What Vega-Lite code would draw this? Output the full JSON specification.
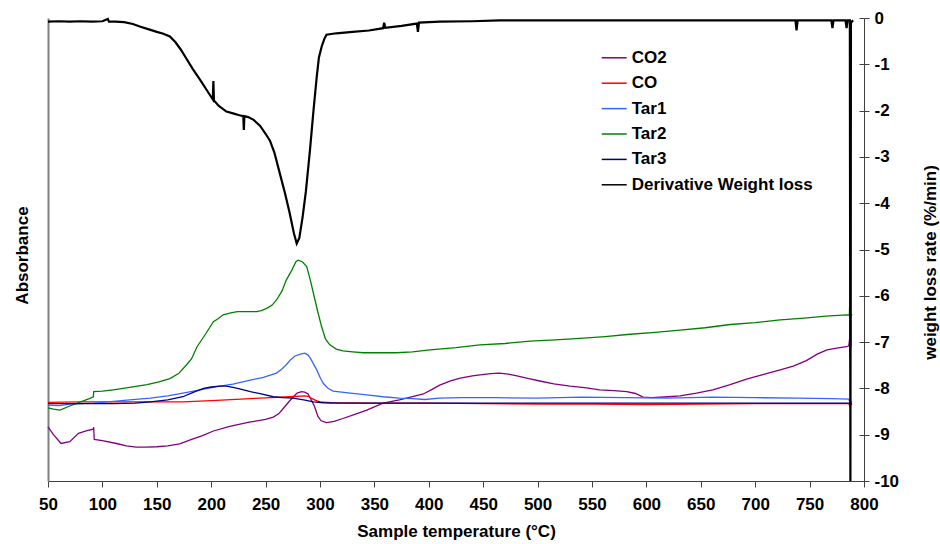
{
  "$schema": "https://vega.github.io/schema/vega-lite/v6.json",
  "width": 816,
  "height": 463,
  "autosize": "none",
  "padding": {"left": 48, "top": 18, "right": 76, "bottom": 63},
  "config": {
    "view": {"stroke": null},
    "font": "Liberation Sans",
    "axis": {"grid": false}
  },
  "data": {
    "values": [
      {"s":"CO2","t":50,"v":-8.83},{"s":"CO2","t":55,"v":-9.0},{"s":"CO2","t":62,"v":-9.19},{"s":"CO2","t":70,"v":-9.15},{"s":"CO2","t":78,"v":-8.97},{"s":"CO2","t":85,"v":-8.92},{"s":"CO2","t":91.5,"v":-8.88},{"s":"CO2","t":92,"v":-8.84},{"s":"CO2","t":92.5,"v":-9.1},{"s":"CO2","t":100,"v":-9.13},{"s":"CO2","t":113,"v":-9.19},{"s":"CO2","t":122,"v":-9.24},{"s":"CO2","t":131,"v":-9.27},{"s":"CO2","t":140,"v":-9.27},{"s":"CO2","t":150,"v":-9.26},{"s":"CO2","t":160,"v":-9.24},{"s":"CO2","t":171,"v":-9.2},{"s":"CO2","t":182,"v":-9.1},{"s":"CO2","t":192,"v":-9.02},{"s":"CO2","t":202,"v":-8.92},{"s":"CO2","t":217,"v":-8.82},{"s":"CO2","t":235,"v":-8.73},{"s":"CO2","t":250,"v":-8.67},{"s":"CO2","t":257,"v":-8.62},{"s":"CO2","t":262,"v":-8.55},{"s":"CO2","t":266,"v":-8.44},{"s":"CO2","t":271,"v":-8.3},{"s":"CO2","t":275.5,"v":-8.18},{"s":"CO2","t":279,"v":-8.1},{"s":"CO2","t":283,"v":-8.07},{"s":"CO2","t":286,"v":-8.08},{"s":"CO2","t":289,"v":-8.12},{"s":"CO2","t":292,"v":-8.25},{"s":"CO2","t":295,"v":-8.39},{"s":"CO2","t":298,"v":-8.6},{"s":"CO2","t":301,"v":-8.7},{"s":"CO2","t":306,"v":-8.74},{"s":"CO2","t":313,"v":-8.71},{"s":"CO2","t":321,"v":-8.65},{"s":"CO2","t":332,"v":-8.56},{"s":"CO2","t":343,"v":-8.47},{"s":"CO2","t":358,"v":-8.32},{"s":"CO2","t":373,"v":-8.25},{"s":"CO2","t":385,"v":-8.18},{"s":"CO2","t":395,"v":-8.12},{"s":"CO2","t":403,"v":-8.02},{"s":"CO2","t":410,"v":-7.93},{"s":"CO2","t":420,"v":-7.84},{"s":"CO2","t":429,"v":-7.78},{"s":"CO2","t":440,"v":-7.73},{"s":"CO2","t":447,"v":-7.71},{"s":"CO2","t":457,"v":-7.68},{"s":"CO2","t":465,"v":-7.67},{"s":"CO2","t":473,"v":-7.69},{"s":"CO2","t":481,"v":-7.73},{"s":"CO2","t":492,"v":-7.79},{"s":"CO2","t":502,"v":-7.84},{"s":"CO2","t":515,"v":-7.9},{"s":"CO2","t":530,"v":-7.95},{"s":"CO2","t":545,"v":-7.99},{"s":"CO2","t":557,"v":-8.03},{"s":"CO2","t":570,"v":-8.05},{"s":"CO2","t":582,"v":-8.07},{"s":"CO2","t":590,"v":-8.11},{"s":"CO2","t":597,"v":-8.19},{"s":"CO2","t":605,"v":-8.2},{"s":"CO2","t":620,"v":-8.18},{"s":"CO2","t":631,"v":-8.16},{"s":"CO2","t":646,"v":-8.1},{"s":"CO2","t":661,"v":-8.03},{"s":"CO2","t":677,"v":-7.92},{"s":"CO2","t":692,"v":-7.8},{"s":"CO2","t":707,"v":-7.7},{"s":"CO2","t":723,"v":-7.6},{"s":"CO2","t":735,"v":-7.52},{"s":"CO2","t":747,"v":-7.4},{"s":"CO2","t":757,"v":-7.26},{"s":"CO2","t":766,"v":-7.17},{"s":"CO2","t":775,"v":-7.13},{"s":"CO2","t":784,"v":-7.1},{"s":"CO2","t":786,"v":-7.08},{"s":"CO2","t":786.8,"v":-6.93},{"s":"CO2","t":787.3,"v":-7.35},{"s":"CO2","t":787.6,"v":-2.0},{"s":"CO2","t":788,"v":-7.1},

      {"s":"CO","t":50,"v":-8.3},{"s":"CO","t":80,"v":-8.29},{"s":"CO","t":120,"v":-8.29},{"s":"CO","t":144,"v":-8.29},{"s":"CO","t":174,"v":-8.29},{"s":"CO","t":205,"v":-8.26},{"s":"CO","t":236,"v":-8.22},{"s":"CO","t":255,"v":-8.2},{"s":"CO","t":272,"v":-8.18},{"s":"CO","t":286,"v":-8.16},{"s":"CO","t":289,"v":-8.17},{"s":"CO","t":292,"v":-8.21},{"s":"CO","t":296,"v":-8.26},{"s":"CO","t":300,"v":-8.29},{"s":"CO","t":310,"v":-8.31},{"s":"CO","t":350,"v":-8.32},{"s":"CO","t":400,"v":-8.32},{"s":"CO","t":450,"v":-8.33},{"s":"CO","t":500,"v":-8.34},{"s":"CO","t":550,"v":-8.34},{"s":"CO","t":600,"v":-8.35},{"s":"CO","t":650,"v":-8.34},{"s":"CO","t":700,"v":-8.33},{"s":"CO","t":750,"v":-8.33},{"s":"CO","t":786,"v":-8.33},{"s":"CO","t":787,"v":-8.38},{"s":"CO","t":789,"v":-8.33},

      {"s":"Tar1","t":50,"v":-8.36},{"s":"Tar1","t":60,"v":-8.37},{"s":"Tar1","t":70,"v":-8.34},{"s":"Tar1","t":80,"v":-8.33},{"s":"Tar1","t":92,"v":-8.32},{"s":"Tar1","t":105,"v":-8.29},{"s":"Tar1","t":125,"v":-8.25},{"s":"Tar1","t":144,"v":-8.21},{"s":"Tar1","t":160,"v":-8.16},{"s":"Tar1","t":174,"v":-8.1},{"s":"Tar1","t":190,"v":-8.03},{"s":"Tar1","t":205,"v":-7.96},{"s":"Tar1","t":220,"v":-7.91},{"s":"Tar1","t":236,"v":-7.82},{"s":"Tar1","t":248,"v":-7.76},{"s":"Tar1","t":260,"v":-7.67},{"s":"Tar1","t":265,"v":-7.58},{"s":"Tar1","t":269,"v":-7.49},{"s":"Tar1","t":273,"v":-7.38},{"s":"Tar1","t":277,"v":-7.3},{"s":"Tar1","t":282,"v":-7.26},{"s":"Tar1","t":286,"v":-7.24},{"s":"Tar1","t":289,"v":-7.28},{"s":"Tar1","t":291,"v":-7.34},{"s":"Tar1","t":294,"v":-7.47},{"s":"Tar1","t":297,"v":-7.6},{"s":"Tar1","t":300,"v":-7.76},{"s":"Tar1","t":303,"v":-7.89},{"s":"Tar1","t":307,"v":-7.99},{"s":"Tar1","t":312,"v":-8.06},{"s":"Tar1","t":320,"v":-8.08},{"s":"Tar1","t":328,"v":-8.1},{"s":"Tar1","t":343,"v":-8.14},{"s":"Tar1","t":358,"v":-8.18},{"s":"Tar1","t":373,"v":-8.21},{"s":"Tar1","t":385,"v":-8.22},{"s":"Tar1","t":396,"v":-8.24},{"s":"Tar1","t":410,"v":-8.21},{"s":"Tar1","t":430,"v":-8.2},{"s":"Tar1","t":460,"v":-8.2},{"s":"Tar1","t":500,"v":-8.21},{"s":"Tar1","t":540,"v":-8.19},{"s":"Tar1","t":580,"v":-8.2},{"s":"Tar1","t":620,"v":-8.21},{"s":"Tar1","t":660,"v":-8.19},{"s":"Tar1","t":700,"v":-8.2},{"s":"Tar1","t":740,"v":-8.21},{"s":"Tar1","t":770,"v":-8.22},{"s":"Tar1","t":786,"v":-8.23},{"s":"Tar1","t":787,"v":-8.3},{"s":"Tar1","t":789,"v":-8.28},

      {"s":"Tar2","t":50,"v":-8.42},{"s":"Tar2","t":55,"v":-8.45},{"s":"Tar2","t":61,"v":-8.47},{"s":"Tar2","t":70,"v":-8.38},{"s":"Tar2","t":80,"v":-8.29},{"s":"Tar2","t":88,"v":-8.22},{"s":"Tar2","t":91.7,"v":-8.18},{"s":"Tar2","t":92,"v":-8.07},{"s":"Tar2","t":100,"v":-8.06},{"s":"Tar2","t":110,"v":-8.03},{"s":"Tar2","t":125,"v":-7.98},{"s":"Tar2","t":141,"v":-7.92},{"s":"Tar2","t":152,"v":-7.86},{"s":"Tar2","t":162,"v":-7.79},{"s":"Tar2","t":170,"v":-7.68},{"s":"Tar2","t":177,"v":-7.5},{"s":"Tar2","t":182,"v":-7.36},{"s":"Tar2","t":187,"v":-7.1},{"s":"Tar2","t":195,"v":-6.82},{"s":"Tar2","t":202,"v":-6.56},{"s":"Tar2","t":206,"v":-6.5},{"s":"Tar2","t":211,"v":-6.41},{"s":"Tar2","t":218,"v":-6.37},{"s":"Tar2","t":224,"v":-6.34},{"s":"Tar2","t":235,"v":-6.34},{"s":"Tar2","t":242,"v":-6.34},{"s":"Tar2","t":246,"v":-6.32},{"s":"Tar2","t":251,"v":-6.27},{"s":"Tar2","t":256,"v":-6.2},{"s":"Tar2","t":260,"v":-6.09},{"s":"Tar2","t":265,"v":-5.9},{"s":"Tar2","t":269,"v":-5.66},{"s":"Tar2","t":274,"v":-5.45},{"s":"Tar2","t":278,"v":-5.26},{"s":"Tar2","t":280,"v":-5.23},{"s":"Tar2","t":284,"v":-5.27},{"s":"Tar2","t":287.8,"v":-5.37},{"s":"Tar2","t":291,"v":-5.65},{"s":"Tar2","t":294,"v":-5.95},{"s":"Tar2","t":298,"v":-6.35},{"s":"Tar2","t":301.5,"v":-6.67},{"s":"Tar2","t":305,"v":-6.93},{"s":"Tar2","t":309,"v":-7.06},{"s":"Tar2","t":315,"v":-7.15},{"s":"Tar2","t":321,"v":-7.19},{"s":"Tar2","t":330,"v":-7.21},{"s":"Tar2","t":340,"v":-7.23},{"s":"Tar2","t":355,"v":-7.23},{"s":"Tar2","t":370,"v":-7.23},{"s":"Tar2","t":385,"v":-7.21},{"s":"Tar2","t":401,"v":-7.17},{"s":"Tar2","t":425,"v":-7.12},{"s":"Tar2","t":447,"v":-7.06},{"s":"Tar2","t":470,"v":-7.03},{"s":"Tar2","t":493,"v":-6.98},{"s":"Tar2","t":516,"v":-6.95},{"s":"Tar2","t":539,"v":-6.92},{"s":"Tar2","t":562,"v":-6.88},{"s":"Tar2","t":585,"v":-6.83},{"s":"Tar2","t":608,"v":-6.79},{"s":"Tar2","t":631,"v":-6.74},{"s":"Tar2","t":654,"v":-6.69},{"s":"Tar2","t":677,"v":-6.62},{"s":"Tar2","t":700,"v":-6.58},{"s":"Tar2","t":723,"v":-6.52},{"s":"Tar2","t":745,"v":-6.48},{"s":"Tar2","t":765,"v":-6.44},{"s":"Tar2","t":784,"v":-6.41},{"s":"Tar2","t":786.5,"v":-6.42},{"s":"Tar2","t":787,"v":-6.1},{"s":"Tar2","t":787.5,"v":-6.45},{"s":"Tar2","t":789,"v":-6.4},

      {"s":"Tar3","t":50,"v":-8.33},{"s":"Tar3","t":80,"v":-8.33},{"s":"Tar3","t":110,"v":-8.33},{"s":"Tar3","t":130,"v":-8.32},{"s":"Tar3","t":144,"v":-8.29},{"s":"Tar3","t":160,"v":-8.25},{"s":"Tar3","t":174,"v":-8.18},{"s":"Tar3","t":184,"v":-8.08},{"s":"Tar3","t":193,"v":-8.0},{"s":"Tar3","t":200,"v":-7.97},{"s":"Tar3","t":208,"v":-7.95},{"s":"Tar3","t":214,"v":-7.95},{"s":"Tar3","t":220,"v":-7.98},{"s":"Tar3","t":228,"v":-8.02},{"s":"Tar3","t":236,"v":-8.07},{"s":"Tar3","t":246,"v":-8.12},{"s":"Tar3","t":257,"v":-8.18},{"s":"Tar3","t":266,"v":-8.2},{"s":"Tar3","t":275,"v":-8.21},{"s":"Tar3","t":285,"v":-8.25},{"s":"Tar3","t":294,"v":-8.29},{"s":"Tar3","t":303,"v":-8.31},{"s":"Tar3","t":320,"v":-8.32},{"s":"Tar3","t":400,"v":-8.32},{"s":"Tar3","t":500,"v":-8.32},{"s":"Tar3","t":600,"v":-8.32},{"s":"Tar3","t":700,"v":-8.32},{"s":"Tar3","t":789,"v":-8.32},

      {"s":"Derivative Weight loss","t":50,"v":-0.08},{"s":"Derivative Weight loss","t":60,"v":-0.07},{"s":"Derivative Weight loss","t":70,"v":-0.08},{"s":"Derivative Weight loss","t":80,"v":-0.07},{"s":"Derivative Weight loss","t":90,"v":-0.08},{"s":"Derivative Weight loss","t":100,"v":-0.07},{"s":"Derivative Weight loss","t":105,"v":-0.02},{"s":"Derivative Weight loss","t":106,"v":-0.08},{"s":"Derivative Weight loss","t":112,"v":-0.08},{"s":"Derivative Weight loss","t":120,"v":-0.09},{"s":"Derivative Weight loss","t":128,"v":-0.13},{"s":"Derivative Weight loss","t":135,"v":-0.19},{"s":"Derivative Weight loss","t":142,"v":-0.24},{"s":"Derivative Weight loss","t":150,"v":-0.3},{"s":"Derivative Weight loss","t":156,"v":-0.34},{"s":"Derivative Weight loss","t":162,"v":-0.4},{"s":"Derivative Weight loss","t":167,"v":-0.52},{"s":"Derivative Weight loss","t":172,"v":-0.68},{"s":"Derivative Weight loss","t":177,"v":-0.87},{"s":"Derivative Weight loss","t":183,"v":-1.1},{"s":"Derivative Weight loss","t":190,"v":-1.34},{"s":"Derivative Weight loss","t":196,"v":-1.56},{"s":"Derivative Weight loss","t":201.5,"v":-1.76},{"s":"Derivative Weight loss","t":202,"v":-1.36},{"s":"Derivative Weight loss","t":202.5,"v":-1.78},{"s":"Derivative Weight loss","t":207,"v":-1.9},{"s":"Derivative Weight loss","t":214,"v":-2.02},{"s":"Derivative Weight loss","t":220,"v":-2.06},{"s":"Derivative Weight loss","t":226,"v":-2.1},{"s":"Derivative Weight loss","t":229.5,"v":-2.12},{"s":"Derivative Weight loss","t":230,"v":-2.42},{"s":"Derivative Weight loss","t":230.5,"v":-2.12},{"s":"Derivative Weight loss","t":234,"v":-2.14},{"s":"Derivative Weight loss","t":239,"v":-2.2},{"s":"Derivative Weight loss","t":245,"v":-2.33},{"s":"Derivative Weight loss","t":250,"v":-2.5},{"s":"Derivative Weight loss","t":254,"v":-2.65},{"s":"Derivative Weight loss","t":258,"v":-2.9},{"s":"Derivative Weight loss","t":263,"v":-3.35},{"s":"Derivative Weight loss","t":268,"v":-3.8},{"s":"Derivative Weight loss","t":272,"v":-4.2},{"s":"Derivative Weight loss","t":276,"v":-4.65},{"s":"Derivative Weight loss","t":278.6,"v":-4.87},{"s":"Derivative Weight loss","t":281,"v":-4.75},{"s":"Derivative Weight loss","t":284,"v":-4.3},{"s":"Derivative Weight loss","t":287,"v":-3.75},{"s":"Derivative Weight loss","t":290.8,"v":-2.85},{"s":"Derivative Weight loss","t":294,"v":-2.0},{"s":"Derivative Weight loss","t":297,"v":-1.27},{"s":"Derivative Weight loss","t":299,"v":-0.85},{"s":"Derivative Weight loss","t":301.5,"v":-0.62},{"s":"Derivative Weight loss","t":304,"v":-0.45},{"s":"Derivative Weight loss","t":306,"v":-0.36},{"s":"Derivative Weight loss","t":315,"v":-0.33},{"s":"Derivative Weight loss","t":330,"v":-0.3},{"s":"Derivative Weight loss","t":345,"v":-0.27},{"s":"Derivative Weight loss","t":358,"v":-0.22},{"s":"Derivative Weight loss","t":359,"v":-0.1},{"s":"Derivative Weight loss","t":360,"v":-0.21},{"s":"Derivative Weight loss","t":375,"v":-0.17},{"s":"Derivative Weight loss","t":389,"v":-0.12},{"s":"Derivative Weight loss","t":390,"v":-0.3},{"s":"Derivative Weight loss","t":391,"v":-0.1},{"s":"Derivative Weight loss","t":410,"v":-0.08},{"s":"Derivative Weight loss","t":440,"v":-0.07},{"s":"Derivative Weight loss","t":465,"v":-0.05},{"s":"Derivative Weight loss","t":520,"v":-0.05},{"s":"Derivative Weight loss","t":600,"v":-0.05},{"s":"Derivative Weight loss","t":680,"v":-0.05},{"s":"Derivative Weight loss","t":737,"v":-0.05},{"s":"Derivative Weight loss","t":738,"v":-0.27},{"s":"Derivative Weight loss","t":739,"v":-0.05},{"s":"Derivative Weight loss","t":770,"v":-0.05},{"s":"Derivative Weight loss","t":771,"v":-0.22},{"s":"Derivative Weight loss","t":772,"v":-0.05},{"s":"Derivative Weight loss","t":783,"v":-0.05},{"s":"Derivative Weight loss","t":784,"v":-0.22},{"s":"Derivative Weight loss","t":785,"v":-0.05},{"s":"Derivative Weight loss","t":787,"v":-0.05},{"s":"Derivative Weight loss","t":787.5,"v":-10},{"s":"Derivative Weight loss","t":788,"v":-0.1},{"s":"Derivative Weight loss","t":790,"v":-0.05}
    ]
  },
  "encoding": {
    "x": {
      "field": "t",
      "type": "quantitative",
      "scale": {"domain": [50, 800], "nice": false, "zero": false},
      "axis": {
        "title": "Sample temperature (°C)",
        "values": [50, 100, 150, 200, 250, 300, 350, 400, 450, 500, 550, 600, 650, 700, 750, 800],
        "format": "d",
        "tickSize": 6,
        "labelPadding": 9,
        "labelFontSize": 17,
        "labelFontWeight": "bold",
        "labelColor": "black",
        "labelFlush": false,
        "labelOverlap": false,
        "titleFontSize": 17,
        "titleFontWeight": "bold",
        "titleColor": "black",
        "titlePadding": 11,
        "domainColor": "#404040",
        "tickColor": "#404040"
      }
    }
  },
  "layer": [
    {
      "transform": [{"filter": "datum.s !== 'Derivative Weight loss'"}],
      "mark": {"type": "line", "strokeWidth": 1.3},
      "encoding": {
        "y": {
          "field": "v",
          "type": "quantitative",
          "scale": {"domain": [-10, 0], "nice": false, "zero": false},
          "axis": {
            "orient": "right",
            "title": "weight loss rate (%/min)",
            "values": [0, -1, -2, -3, -4, -5, -6, -7, -8, -9, -10],
            "labelExpr": "toString(datum.value)",
            "tickSize": 5,
            "labelPadding": 5,
            "labelFontSize": 17,
            "labelFontWeight": "bold",
            "labelColor": "black",
            "labelFlush": false,
            "titleAngle": 270,
            "titleBaseline": "top",
            "titleFontSize": 17,
            "titleFontWeight": "bold",
            "titleColor": "black",
            "titlePadding": 24,
            "titleY": 244,
            "domainColor": "#404040",
            "tickColor": "#404040"
          }
        },
        "color": {
          "field": "s",
          "type": "nominal",
          "scale": {
            "domain": ["CO2", "CO", "Tar1", "Tar2", "Tar3", "Derivative Weight loss"],
            "range": ["#800080", "#ff0000", "#3366ff", "#008000", "#000080", "#000000"]
          },
          "legend": {
            "orient": "none",
            "legendX": 552.7,
            "legendY": 26.3,
            "title": null,
            "symbolType": "stroke",
            "symbolSize": 625,
            "symbolStrokeWidth": 1.5,
            "labelFontSize": 17,
            "labelFontWeight": "bold",
            "labelColor": "black",
            "labelLimit": 0,
            "labelOffset": 4,
            "rowPadding": 3.4,
            "padding": 0
          }
        }
      }
    },
    {
      "transform": [{"filter": "datum.s === 'Derivative Weight loss'"}],
      "mark": {"type": "line", "strokeWidth": 2.2},
      "encoding": {
        "y": {
          "field": "v",
          "type": "quantitative",
          "scale": {"domain": [-10, 0], "nice": false, "zero": false},
          "axis": {
            "orient": "left",
            "title": "Absorbance",
            "labels": false,
            "ticks": false,
            "domainColor": "#808080",
            "domainWidth": 2,
            "titleFontSize": 17,
            "titleFontWeight": "bold",
            "titleColor": "black",
            "titlePadding": 17,
            "titleY": 237
          }
        },
        "color": {
          "field": "s",
          "type": "nominal",
          "scale": {
            "domain": ["CO2", "CO", "Tar1", "Tar2", "Tar3", "Derivative Weight loss"],
            "range": ["#800080", "#ff0000", "#3366ff", "#008000", "#000080", "#000000"]
          }
        }
      }
    },
    {
      "data": {"values": []},
      "mark": {"type": "rule"},
      "encoding": {
        "y": {
          "field": "v",
          "type": "quantitative",
          "scale": {"domain": [-10, 0], "nice": false, "zero": false},
          "axis": {
            "orient": "right",
            "offset": -5,
            "tickSize": 5,
            "labels": false,
            "domain": false,
            "title": null,
            "values": [0, -1, -2, -3, -4, -5, -6, -7, -8, -9, -10],
            "tickColor": "#404040"
          }
        }
      }
    }
  ],
  "resolve": {"axis": {"y": "independent"}}
}
